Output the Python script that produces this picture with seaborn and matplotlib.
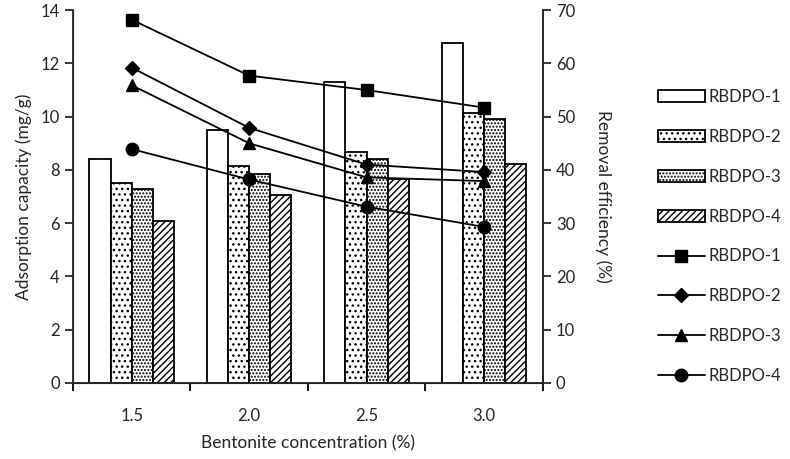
import numpy as np
import pandas as pd
import matplotlib
matplotlib.use("Agg")
import matplotlib.pyplot as plt
import seaborn as sns
from matplotlib.patches import Patch
from matplotlib.lines import Line2D

# data
concentrations = ['1.5', '2.0', '2.5', '3.0']
samples = ['RBDPO-1', 'RBDPO-2', 'RBDPO-3', 'RBDPO-4']
capacity = {
    'RBDPO-1': [8.40, 9.50, 11.30, 12.77],
    'RBDPO-2': [7.51, 8.16, 8.68, 10.12],
    'RBDPO-3': [7.29, 7.86, 8.40, 9.93],
    'RBDPO-4': [6.08, 7.06, 7.66, 8.21],
}
efficiency = {
    'RBDPO-1': [68.2, 57.7, 55.0, 51.7],
    'RBDPO-2': [59.2, 47.9, 41.0, 39.6],
    'RBDPO-3': [55.9, 45.0, 38.6, 37.9],
    'RBDPO-4': [43.9, 38.2, 33.1, 29.3],
}

rows = []
for s in samples:
    for c, cap, eff in zip(concentrations, capacity[s], efficiency[s]):
        rows.append({'conc': c, 'sample': s, 'capacity': cap, 'efficiency': eff})
df = pd.DataFrame(rows)

sns.set_style("ticks")
plt.rcParams['font.family'] = ['Lato', 'DejaVu Sans']
plt.rcParams['hatch.linewidth'] = 1.0

fig = plt.figure(figsize=(7.9, 4.59), dpi=100)
ax = fig.add_axes([0.0924, 0.1656, 0.5946, 0.8124])

hatches = ['', '...', '.....', '/////']
sns.barplot(data=df, x='conc', y='capacity', hue='sample', order=concentrations,
            hue_order=samples, palette=['white'] * 4, width=0.72,
            edgecolor='black', linewidth=1.3, legend=False, ax=ax)
for i, patch in enumerate(ax.patches):
    patch.set_hatch(hatches[i // 4])

ax.set_xlim(-0.5, 3.5)
ax.set_ylim(0, 14)
ax.set_yticks(np.arange(0, 15, 2))
ax.set_xticks(range(4))
ax.set_xticklabels(concentrations)
ax.set_xticks(np.arange(-0.5, 4, 1), minor=True)
ax.tick_params(axis='x', which='major', length=0, pad=18, labelsize=12)
ax.tick_params(axis='x', which='minor', length=6, width=1.3, color='black')
ax.tick_params(axis='y', length=6, width=1.3, labelsize=12)
ax.set_xlabel('Bentonite concentration (%)', fontsize=12.5, labelpad=8)
ax.set_ylabel('Adsorption capacity (mg/g)', fontsize=12.5, labelpad=6)
ax.spines['top'].set_visible(False)
for sp in ['left', 'bottom', 'right']:
    ax.spines[sp].set_linewidth(1.3)

ax2 = ax.twinx()
markers = ['s', 'D', '^', 'o']
sns.pointplot(data=df, x='conc', y='efficiency', hue='sample', order=concentrations,
              hue_order=samples, palette=['black'] * 4, markers=markers,
              linestyles='-', dodge=False, errorbar=None, legend=False,
              markersize=9, linewidth=1.3, ax=ax2)
for ln in ax2.lines:
    if ln.get_marker() == 'D':
        ln.set_markersize(7)
ax2.set_ylim(0, 70)
ax2.set_yticks(np.arange(0, 71, 10))
ax2.set_xlim(-0.5, 3.5)
ax2.tick_params(axis='y', length=6, width=1.3, labelsize=12)
ax2.set_ylabel('Removal efficiency (%)', fontsize=12.5, rotation=270, labelpad=26)
ax2.set_xlabel('')
ax2.spines['top'].set_visible(False)
ax2.spines['right'].set_linewidth(1.3)

handles = [Patch(facecolor='white', edgecolor='black', hatch=h, linewidth=1.3) for h in hatches]
handles += [Line2D([], [], color='black', marker=m, linewidth=1.3,
                   markersize=7 if m == 'D' else 9) for m in markers]
labels = samples + samples
fig.legend(handles, labels, loc='upper left', bbox_to_anchor=(0.833, 0.806),
           frameon=False, fontsize=12, handlelength=2.8, handletextpad=0.25,
           labelspacing=1.43, borderaxespad=0, borderpad=0)

fig.savefig('out.png', dpi=100)
